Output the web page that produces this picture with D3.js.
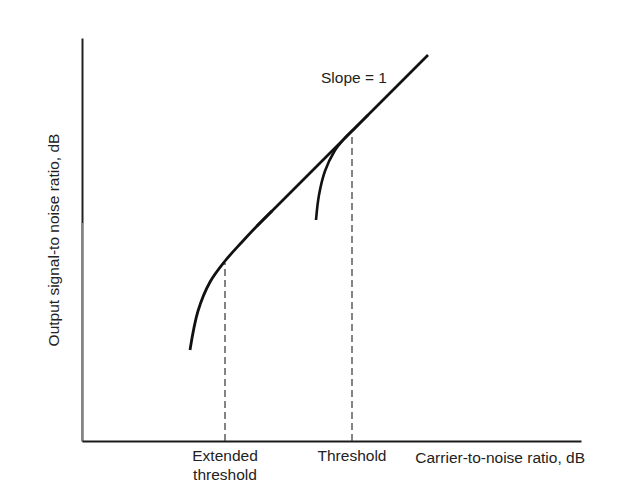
<!DOCTYPE html>
<html>
<head>
<meta charset="utf-8">
<script src="https://cdn.jsdelivr.net/npm/d3@7"></script>
<style>
  html, body { margin: 0; padding: 0; background: #fff; }
  svg { display: block; }
  text { font-family: "Liberation Sans", Arial, sans-serif; fill: #222; }
</style>
</head>
<body>
<svg id="chart" width="619" height="500"></svg>
<script>
// Data in (carrier-to-noise dB, output SNR dB) units — arbitrary
const slopeLine = [[17.5, 21.5], [34.6, 38.6]];
const extendedCurve = [[10.8, 9.1], [11.6, 13.0], [12.8, 15.9], [14.3, 18.0], [16.0, 19.9], [17.5, 21.5], [19.0, 23.0]];
const thresholdCurve = [[23.4, 22.1], [23.7, 24.6], [24.3, 27.0], [25.2, 28.9], [26.2, 30.2], [27.4, 31.4], [28.6, 32.6]];
const markers = [
  { name: "Extended threshold", x: 14.3, top: 17.8 },
  { name: "Threshold", x: 27.0, top: 30.8 }
];
const xLabel = "Carrier-to-noise ratio, dB";
const yLabel = "Output signal-to noise ratio, dB";
const slopeLabel = "Slope = 1";

const svg = d3.select("#chart");
const x = d3.scaleLinear().domain([0, 49.9]).range([82, 581]);
const y = d3.scaleLinear().domain([0, 40.3]).range([441, 38]);

// Axes (no ticks)
const yAxis = svg.append("g").attr("transform", `translate(${x(0)},0)`)
  .call(d3.axisLeft(y).tickValues([]).tickSizeOuter(0));
yAxis.select(".domain").attr("stroke", "#222").attr("stroke-width", 2);
// lighter lower portion of the vertical axis, as in the reference scan
svg.append("line")
  .attr("x1", x(0)).attr("x2", x(0))
  .attr("y1", y(0)).attr("y2", y(21.8))
  .attr("stroke", "#fff").attr("stroke-width", 2.2);
svg.append("line")
  .attr("x1", x(0)).attr("x2", x(0))
  .attr("y1", y(0)).attr("y2", y(21.8))
  .attr("stroke", "#666").attr("stroke-width", 1.6);

const xAxis = svg.append("g").attr("transform", `translate(0,${y(0)})`)
  .call(d3.axisBottom(x).tickValues([]).tickSizeOuter(0));
xAxis.select(".domain").attr("stroke", "#1a1a1a").attr("stroke-width", 2);

// Dashed verticals
svg.selectAll("line.mark").data(markers).enter().append("line")
  .attr("class", "mark")
  .attr("x1", d => x(d.x)).attr("x2", d => x(d.x))
  .attr("y1", y(0)).attr("y2", d => y(d.top))
  .attr("stroke", "#333").attr("stroke-width", 1.2)
  .attr("stroke-dasharray", "7,4");

const line = d3.line().x(d => x(d[0])).y(d => y(d[1]));
const curve = d3.line().x(d => x(d[0])).y(d => y(d[1])).curve(d3.curveCatmullRom.alpha(0.5));

svg.append("path").datum(slopeLine).attr("d", line)
  .attr("fill", "none").attr("stroke", "#111").attr("stroke-width", 2.6);
svg.append("path").datum(extendedCurve).attr("d", curve)
  .attr("fill", "none").attr("stroke", "#111").attr("stroke-width", 2.8);
svg.append("path").datum(thresholdCurve).attr("d", curve)
  .attr("fill", "none").attr("stroke", "#111").attr("stroke-width", 2.6);

// Labels
const fs = "15.5px";
svg.append("text").attr("x", x(14.3)).attr("y", 461).attr("text-anchor", "middle")
  .style("font-size", fs).text("Extended");
svg.append("text").attr("x", x(14.3)).attr("y", 480).attr("text-anchor", "middle")
  .style("font-size", fs).text("threshold");
svg.append("text").attr("x", x(27.0)).attr("y", 461).attr("text-anchor", "middle")
  .style("font-size", fs).text("Threshold");
svg.append("text").attr("x", 585).attr("y", 463).attr("text-anchor", "end")
  .style("font-size", fs).text(xLabel);
svg.append("text").attr("x", 321).attr("y", 83)
  .style("font-size", fs).text(slopeLabel);
svg.append("text").attr("transform", "translate(59,240) rotate(-90)")
  .attr("text-anchor", "middle").style("font-size", fs).text(yLabel);
</script>
</body>
</html>
